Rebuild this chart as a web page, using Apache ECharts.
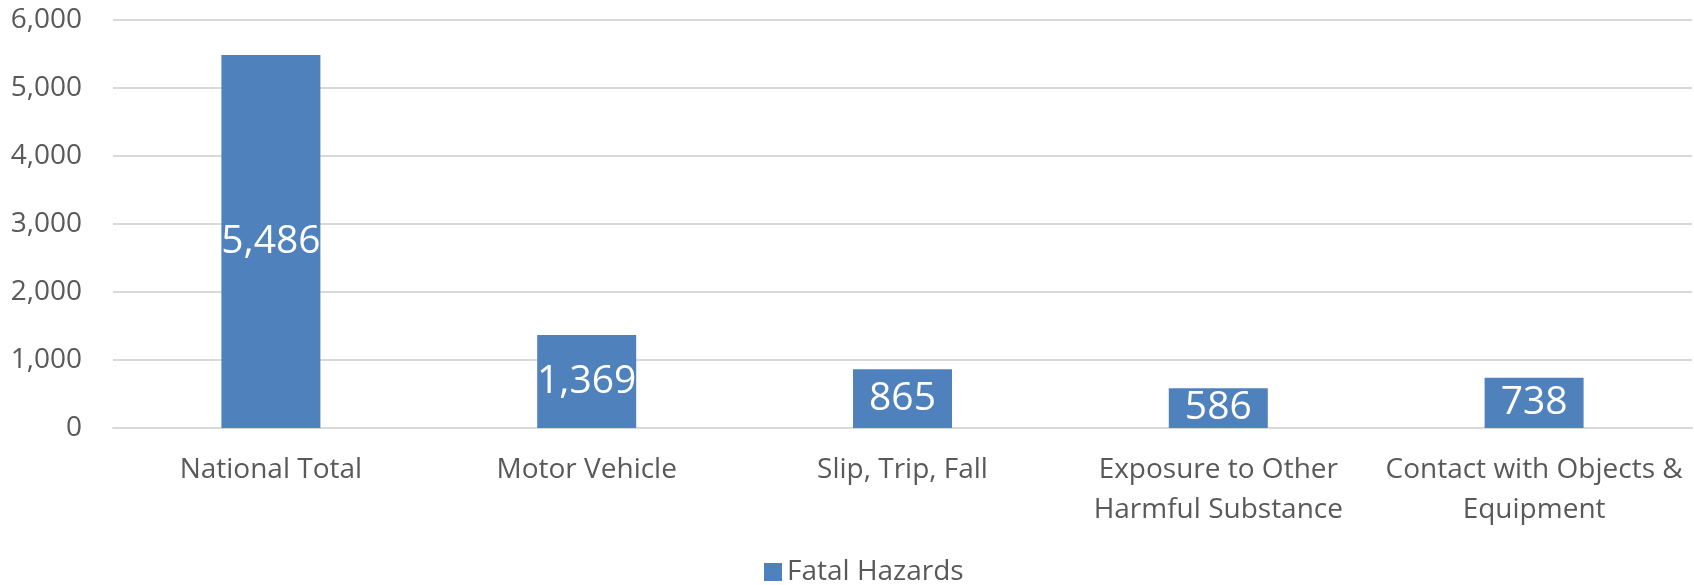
<!DOCTYPE html>
<html>
<head>
<meta charset="utf-8">
<script src="https://cdn.jsdelivr.net/npm/echarts@6/dist/echarts.min.js"></script>
<style>
html,body{margin:0;padding:0;background:#fff;}
#chart{width:1694px;height:585px;}
</style>
</head>
<body>
<div id="chart"></div>
<script>
const categories = ["National Total", "Motor Vehicle", "Slip, Trip, Fall", "Exposure to Other\nHarmful Substance", "Contact with Objects &\nEquipment"];
const fatalHazards = [5486, 1369, 865, 586, 738];
const seriesName = "Fatal Hazards";
const yTicks = { min: 0, max: 6000, interval: 1000 };

const fmt = v => Number(v).toLocaleString('en-US');
const chart = echarts.init(document.getElementById('chart'), null, {renderer: 'canvas'});
const font = "'Open Sans', sans-serif";
chart.setOption({
  animation: false,
  backgroundColor: '#ffffff',
  textStyle: { fontFamily: font },
  grid: { left: 113, right: 2, top: 20, bottom: 157, containLabel: false },
  legend: {
    data: [seriesName],
    left: 759, top: 553,
    itemWidth: 18, itemHeight: 18, itemGap: 10,
    icon: 'rect',
    textStyle: { fontFamily: font, fontSize: 28, color: '#595959' }
  },
  xAxis: {
    type: 'category',
    data: categories,
    axisLine: { show: true, lineStyle: { color: '#D9D9D9', width: 2 } },
    axisTick: { show: false },
    axisLabel: { fontFamily: font, fontSize: 28, color: '#595959', margin: 22, lineHeight: 40, interval: 0 }
  },
  yAxis: {
    type: 'value',
    min: yTicks.min, max: yTicks.max, interval: yTicks.interval,
    axisLine: { show: false },
    axisTick: { show: false },
    splitLine: { lineStyle: { color: '#D9D9D9', width: 2 } },
    axisLabel: { fontFamily: font, fontSize: 28, color: '#595959', margin: 31, formatter: fmt }
  },
  series: [{
    name: seriesName,
    type: 'bar',
    data: fatalHazards,
    barWidth: 99,
    itemStyle: { color: '#4F81BD' },
    label: {
      show: true, position: 'inside',
      fontFamily: font, fontSize: 39, color: '#ffffff',
      formatter: p => fmt(p.value)
    }
  }]
});
</script>
</body>
</html>
